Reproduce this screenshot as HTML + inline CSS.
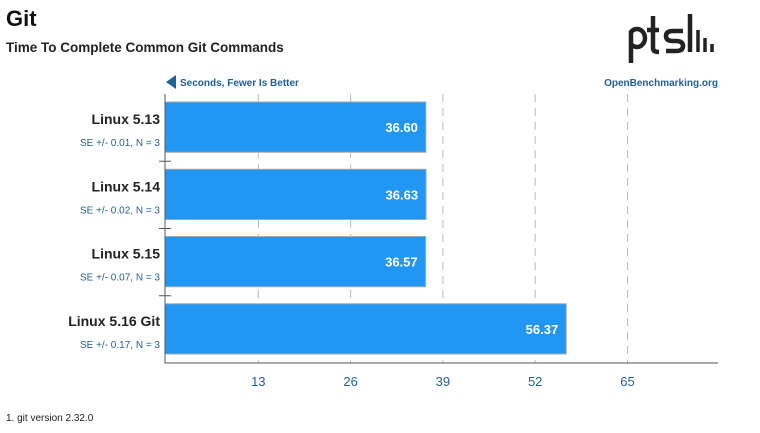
<!DOCTYPE html>
<html><head><meta charset="utf-8"><style>
body{margin:0;background:#fff;width:760px;height:428px;overflow:hidden;font-family:"Liberation Sans",sans-serif}
svg text{font-family:"Liberation Sans",sans-serif}
</style></head><body>
<svg id="c" width="760" height="428">
<text x="6" y="26" font-size="22" font-weight="bold" fill="#111">Git</text>
<text x="6" y="52" font-size="13.5" font-weight="bold" fill="#222">Time To Complete Common Git Commands</text>
<g fill="none" stroke="#222" stroke-width="4.5">
<path d="M631 63 V32 a8 9 0 1 1 0 12"/>
<path d="M653 16 V48 q0 4 6 4 M647 30 h12"/>
<path d="M683 31 h-10 q-7 0 -7 5 q0 5 7 5 h3 q7 0 7 5 q0 5 -7 5 h-10"/>
<path d="M690 14 V52"/>
<path d="M698 30 V52 M705 38 V52 M712 44 V52" stroke-width="3.5"/>
</g>
<path d="M166 82 L176 75 L176 89 Z" fill="#1f5f9a"/>
<text x="180" y="86" font-size="10" font-weight="bold" fill="#1f5f9a">Seconds, Fewer Is Better</text>
<text x="718" y="86" font-size="10" font-weight="bold" fill="#1f5f9a" text-anchor="end">OpenBenchmarking.org</text>
<g id="grid"></g><g id="bars"></g><g id="axis"></g>
<text x="6" y="421" font-size="10" fill="#222">1. git version 2.32.0</text>
</svg>
<script>
const categories=["Linux 5.13","Linux 5.14","Linux 5.15","Linux 5.16 Git"];
const values=[36.60,36.63,36.57,56.37];
const valueLabels=["36.60","36.63","36.57","56.37"];
const seLabels=["SE +/- 0.01, N = 3","SE +/- 0.02, N = 3","SE +/- 0.07, N = 3","SE +/- 0.17, N = 3"];
const ticks=[13,26,39,52,65];
const NS="http://www.w3.org/2000/svg";
const x0=165,xz=166,x1=718,pxPer=7.1,yTop=94,yBot=363;
const xs=v=>xz+v*pxPer;
const band=(yBot-yTop)/categories.length;
function mk(t,a,p){const e=document.createElementNS(NS,t);for(const k in a)e.setAttribute(k,a[k]);p.appendChild(e);return e;}
const G=document.getElementById('grid'),B=document.getElementById('bars'),A=document.getElementById('axis');
ticks.forEach((t,i)=>{
 const l=mk('line',{x1:xs(t),x2:xs(t),y1:yTop,y2:yBot,stroke:'#bbb','stroke-dasharray':'8,6'},G);
 
 
 const tx=mk('text',{x:xs(t),y:yBot+23,'font-size':13,fill:'#1f5f9a','text-anchor':'middle'},A);
 tx.textContent=t;
 
 
});
categories.forEach((c,i)=>{
 const y=yTop+i*band+8,h=band-17;
 const r=mk('rect',{x:x0,y:y,width:xs(values[i])-x0,height:h,fill:'#2196f3',stroke:'#aaa','stroke-width':1},B);
 
 
 const v=mk('text',{x:xs(values[i])-8,y:y+h/2+5,'font-size':13,'font-weight':'bold',fill:'#fff','text-anchor':'end'},B);
 v.textContent=valueLabels[i];
 
 
 const n=mk('text',{x:160,y:y+h/2-3,'font-size':14,'font-weight':'bold',fill:'#222','text-anchor':'end'},B);
 n.textContent=c;
 
 
 const s=mk('text',{x:160,y:y+h/2+19,'font-size':10,fill:'#1f5f9a','text-anchor':'end'},B);
 s.textContent=seLabels[i];
 
 
 if(i>0){const tk=mk('line',{x1:x0-6,x2:x0+6,y1:yTop+i*band,y2:yTop+i*band,stroke:'#555'},A);
 
 }
});
const ax=mk('path',{d:`M${x0} ${yTop} V${yBot} H${x1}`,stroke:'#555',fill:'none','stroke-width':1},A);


</script>
</body></html>
